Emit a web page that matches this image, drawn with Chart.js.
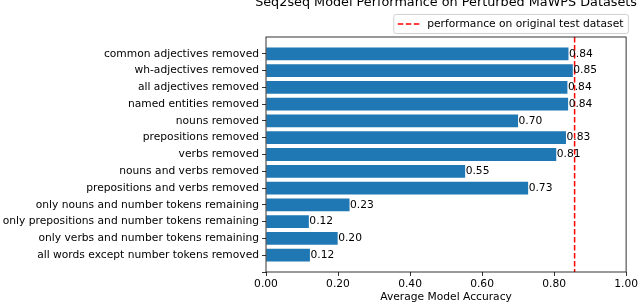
<!DOCTYPE html>
<html>
<head>
<meta charset="utf-8">
<script src="https://cdn.jsdelivr.net/npm/chart.js@4/dist/chart.umd.min.js"></script>
<style>
  html, body { margin: 0; padding: 0; background: #fff; }
  #wrap { width: 640px; height: 306px; position: relative; }
</style>
</head>
<body>
<div id="wrap"><canvas id="accChart"></canvas></div>
<script>
(function() {

var categories = [
    "common adjectives removed",
    "wh-adjectives removed",
    "all adjectives removed",
    "named entities removed",
    "nouns removed",
    "prepositions removed",
    "verbs removed",
    "nouns and verbs removed",
    "prepositions and verbs removed",
    "only nouns and number tokens remaining",
    "only prepositions and number tokens remaining",
    "only verbs and number tokens remaining",
    "all words except number tokens removed"
];
var accuracy = [0.84, 0.852, 0.837, 0.839, 0.70, 0.833, 0.806, 0.553, 0.728, 0.232, 0.119, 0.199, 0.122];
var originalAccuracy = 0.857;
var xTicks = [0, 0.2, 0.4, 0.6, 0.8, 1.0];

var titleText = "Seq2seq Model Performance on Perturbed MaWPS Datasets";
var legendText = "performance on original test dataset";
var xTitle = "Average Model Accuracy";

var font = "DejaVu Sans";
var barData = [];
for (var i = 0; i < categories.length; i++) {
    barData.push({ x: accuracy[i], y: i });
}

// one empty slot above and below the bars, as in the original figure
var yMin = -1;
var yMax = categories.length;

var extras = {
    id: 'extras',
    beforeDraw: function(chart) {
        var lg = chart.legend;
        if (!lg || !lg.legendHitBoxes || !lg.legendHitBoxes.length) return;
        var hb = lg.legendHitBoxes[0];
        var ctx = chart.ctx;
        var cy = hb.top + hb.height / 2;
        var x0 = hb.left - 4, x1 = hb.left + hb.width + 5;
        ctx.save();
        ctx.beginPath();
        ctx.roundRect(x0, cy - 9.5, x1 - x0, 19, 2);
        ctx.fillStyle = '#fff';
        ctx.fill();
        ctx.strokeStyle = '#d0d0d0';
        ctx.lineWidth = 1;
        ctx.stroke();
        ctx.restore();
    },
    afterDatasetsDraw: function(chart) {
        var ctx = chart.ctx;
        var meta = chart.getDatasetMeta(0);
        ctx.save();
        ctx.font = '10.7px "' + font + '"';
        ctx.fillStyle = '#000';
        ctx.textAlign = 'left';
        ctx.textBaseline = 'middle';
        meta.data.forEach(function(bar, i) {
            ctx.fillText(accuracy[i].toFixed(2), bar.x + 0.5, bar.y);
        });
        ctx.restore();
    },
    afterDraw: function(chart) {
        var ctx = chart.ctx;
        var a = chart.chartArea;
        ctx.save();
        ctx.strokeStyle = '#000';
        ctx.lineWidth = 0.8;
        ctx.strokeRect(a.left, a.top, a.right - a.left, a.bottom - a.top);
        ctx.font = '12.8px "' + font + '"';
        ctx.fillStyle = '#000';
        ctx.textAlign = 'center';
        ctx.textBaseline = 'alphabetic';
        ctx.fillText(titleText, (a.left + a.right) / 2, 6);
        ctx.restore();
    }
};

var config = {
    type: 'bar',
    data: {
        datasets: [{
            label: 'accuracy',
            data: barData,
            backgroundColor: '#1f77b4',
            borderWidth: 0,
            categoryPercentage: 0.76,
            barPercentage: 1,
            order: 1
        }, {
            type: 'line',
            label: legendText,
            data: [{ x: originalAccuracy, y: yMin }, { x: originalAccuracy, y: yMax }],
            borderColor: 'red',
            borderWidth: 1.5,
            borderDash: [5.5, 2.5],
            pointRadius: 0,
            fill: false,
            order: 0
        }]
    },
    options: {
        indexAxis: 'y',
        responsive: true,
        maintainAspectRatio: false,
        animation: false,
        layout: { padding: { top: 10, right: 8, left: 0, bottom: 0 } },
        scales: {
            x: {
                type: 'linear',
                min: 0,
                max: 1,
                afterBuildTicks: function(axis) {
                    axis.ticks = xTicks.map(function(v) { return { value: v }; });
                },
                afterFit: function(axis) { axis.height = 34; },
                ticks: {
                    color: '#000',
                    padding: 2,
                    font: { family: font, size: 10.7 },
                    callback: function(v) { return Number(v).toFixed(2); }
                },
                grid: { drawOnChartArea: false, drawTicks: true, tickLength: 4, color: '#000', lineWidth: 0.8 },
                border: { display: false },
                title: {
                    display: true,
                    text: xTitle,
                    color: '#000',
                    font: { family: font, size: 10.7 },
                    padding: { top: 0, bottom: 2 }
                }
            },
            y: {
                type: 'linear',
                reverse: true,
                offset: false,
                min: yMin,
                max: yMax,
                afterBuildTicks: function(axis) {
                    var t = [];
                    for (var k = 0; k <= categories.length; k++) t.push({ value: k });
                    axis.ticks = t;
                },
                afterFit: function(axis) { axis.width = 266; },
                ticks: {
                    color: '#000',
                    padding: 3,
                    autoSkip: false,
                    font: { family: font, size: 10.7 },
                    callback: function(v) { return categories[v] || ''; }
                },
                grid: { offset: false, drawOnChartArea: false, drawTicks: true, tickLength: 4, color: '#000', lineWidth: 0.8 },
                border: { display: false }
            }
        },
        plugins: {
            tooltip: { enabled: false },
            title: { display: false },
            legend: {
                position: 'top',
                align: 'end',
                maxHeight: 27,
                labels: {
                    color: '#000',
                    font: { family: font, size: 10.7 },
                    padding: 8.6,
                    usePointStyle: true,
                    pointStyle: 'line',
                    pointStyleWidth: 24,
                    generateLabels: function(chart) {
                        var items = Chart.defaults.plugins.legend.labels.generateLabels(chart);
                        items = items.filter(function(it) { return it.datasetIndex === 1; });
                        items.forEach(function(it) {
                            it.pointStyle = 'line';
                            it.lineDash = [5.5, 2.5];
                            it.lineWidth = 1.5;
                            it.strokeStyle = 'red';
                            it.fillStyle = 'red';
                        });
                        return items;
                    }
                }
            }
        }
    },
    plugins: [extras]
};

window.onload = function() {
    var ctx = document.getElementById("accChart").getContext("2d");
    window.accChart = new Chart(ctx, config);
};

})();
</script>
</body>
</html>
